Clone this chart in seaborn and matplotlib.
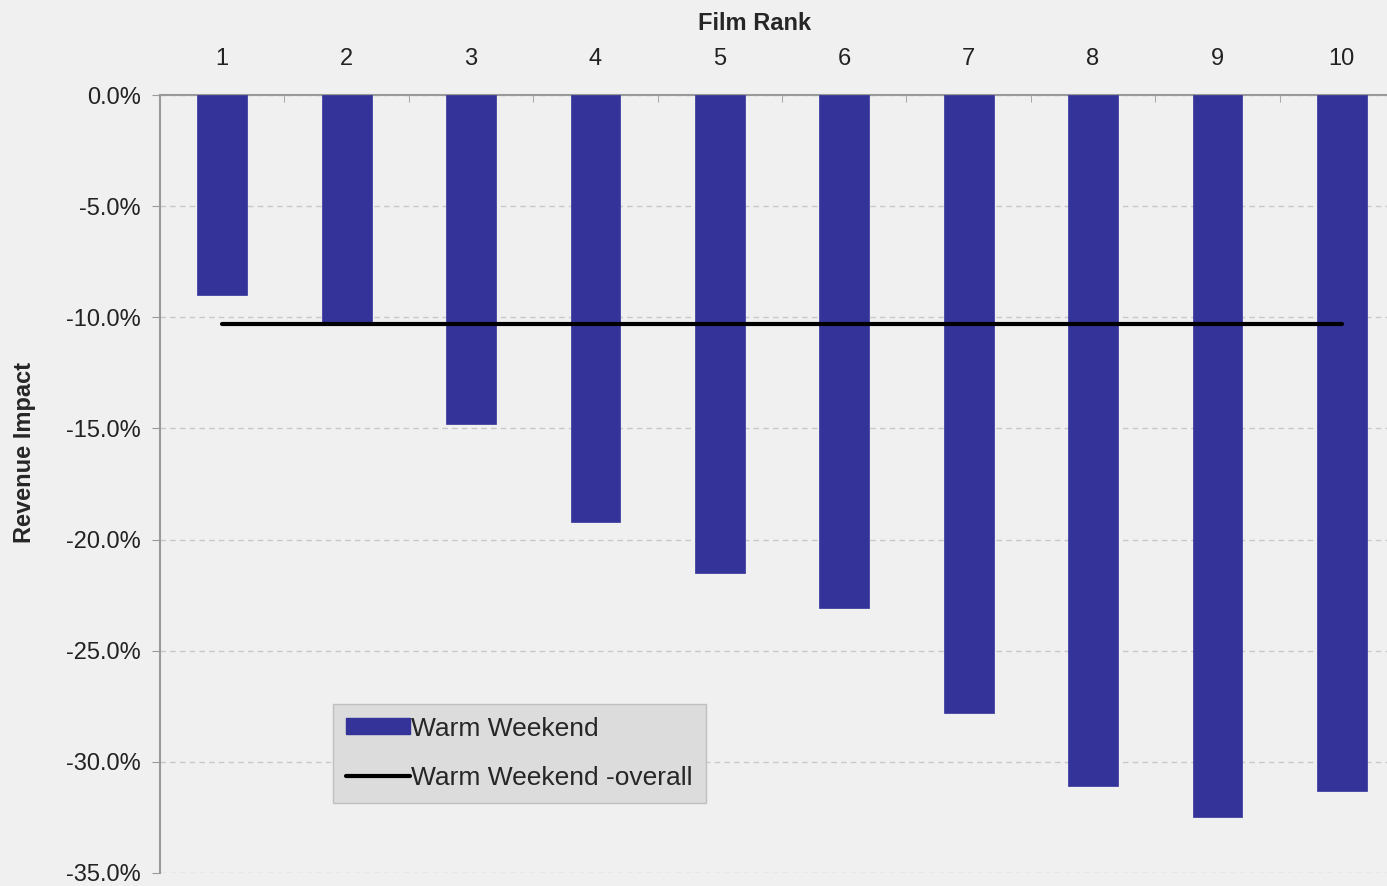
import numpy as np
import pandas as pd
import matplotlib
matplotlib.use('Agg')
import matplotlib.pyplot as plt
from matplotlib.ticker import PercentFormatter, FixedLocator
from matplotlib.patches import Patch
from matplotlib.lines import Line2D
import seaborn as sb

ranks = ['1', '2', '3', '4', '5', '6', '7', '8', '9', '10']
warm_weekend = [-9.0, -10.2, -14.8, -19.2, -21.5, -23.1, -27.8, -31.1, -32.5, -31.3]
warm_weekend_overall = [-10.3] * len(ranks)

BAR = '#333399'
BG = '#f0f0f0'

sb.set_style('white')
plt.rcParams['font.family'] = ['Liberation Sans', 'DejaVu Sans']
plt.rcParams['axes.unicode_minus'] = False

df = pd.DataFrame({'rank': ranks, 'impact': warm_weekend})

fig = plt.figure(figsize=(13.87, 8.86), dpi=100, facecolor=BG)
ax = fig.add_axes([0.1154, 0.0147, 0.8969, 0.878])
ax.set_facecolor(BG)

sb.barplot(data=df, x='rank', y='impact', color=BAR, saturation=1, width=0.4,
           edgecolor=BAR, linewidth=0.5, ax=ax, zorder=3)
sb.lineplot(x=np.arange(len(ranks)), y=warm_weekend_overall, color='black', linewidth=3, ax=ax, zorder=4)

ax.set_ylim(-35, 0)
ax.set_xlim(-0.5, len(ranks) - 0.5)
ax.yaxis.set_major_locator(FixedLocator(np.arange(-35, 0.1, 5)))
ax.yaxis.set_major_formatter(PercentFormatter(100, decimals=1))
ax.grid(axis='y', color='#c8c8c8', linestyle=(0, (4, 3)), linewidth=1, zorder=0)

ax.xaxis.tick_top()
ax.xaxis.set_label_position('top')
ax.set_xlabel('Film Rank', fontsize=17, fontweight='bold')
ax.xaxis.set_label_coords(0.478, 1.084)
ax.set_ylabel('Revenue Impact', fontsize=17, fontweight='bold')
ax.yaxis.set_label_coords(-0.100, 0.541)
ax.tick_params(axis='x', length=0, labelsize=17, pad=26, colors='#222222')
ax.tick_params(axis='y', length=6, labelsize=17, pad=8, colors='#999999', labelcolor='#222222', left=True)
ax.set_xticks(np.arange(-0.5, len(ranks), 1), minor=True)
ax.tick_params(axis='x', which='minor', length=5, direction='in', top=True, bottom=False, colors='#999999')
for lbl in ax.get_xticklabels():
    lbl.set_verticalalignment('center')

for s in ['right', 'bottom']:
    ax.spines[s].set_visible(False)
for s in ['left', 'top']:
    ax.spines[s].set_color('#999999')
    ax.spines[s].set_linewidth(1.5)

handles = [Patch(facecolor=BAR, edgecolor=BAR),
           Line2D([0], [0], color='black', linewidth=3)]
leg = ax.legend(handles, ['Warm Weekend', 'Warm Weekend -overall'],
                loc='lower left', bbox_to_anchor=(0.139, 0.09), fontsize=19,
                frameon=True, fancybox=False, facecolor='#dcdcdc', edgecolor='#c0c0c0',
                framealpha=1, handlelength=2.4, handleheight=0.55, handletextpad=0.05,
                borderpad=0.5, labelspacing=0.95, borderaxespad=0)
leg.set_zorder(5)

fig.savefig('out.png', dpi=100, facecolor=BG)
